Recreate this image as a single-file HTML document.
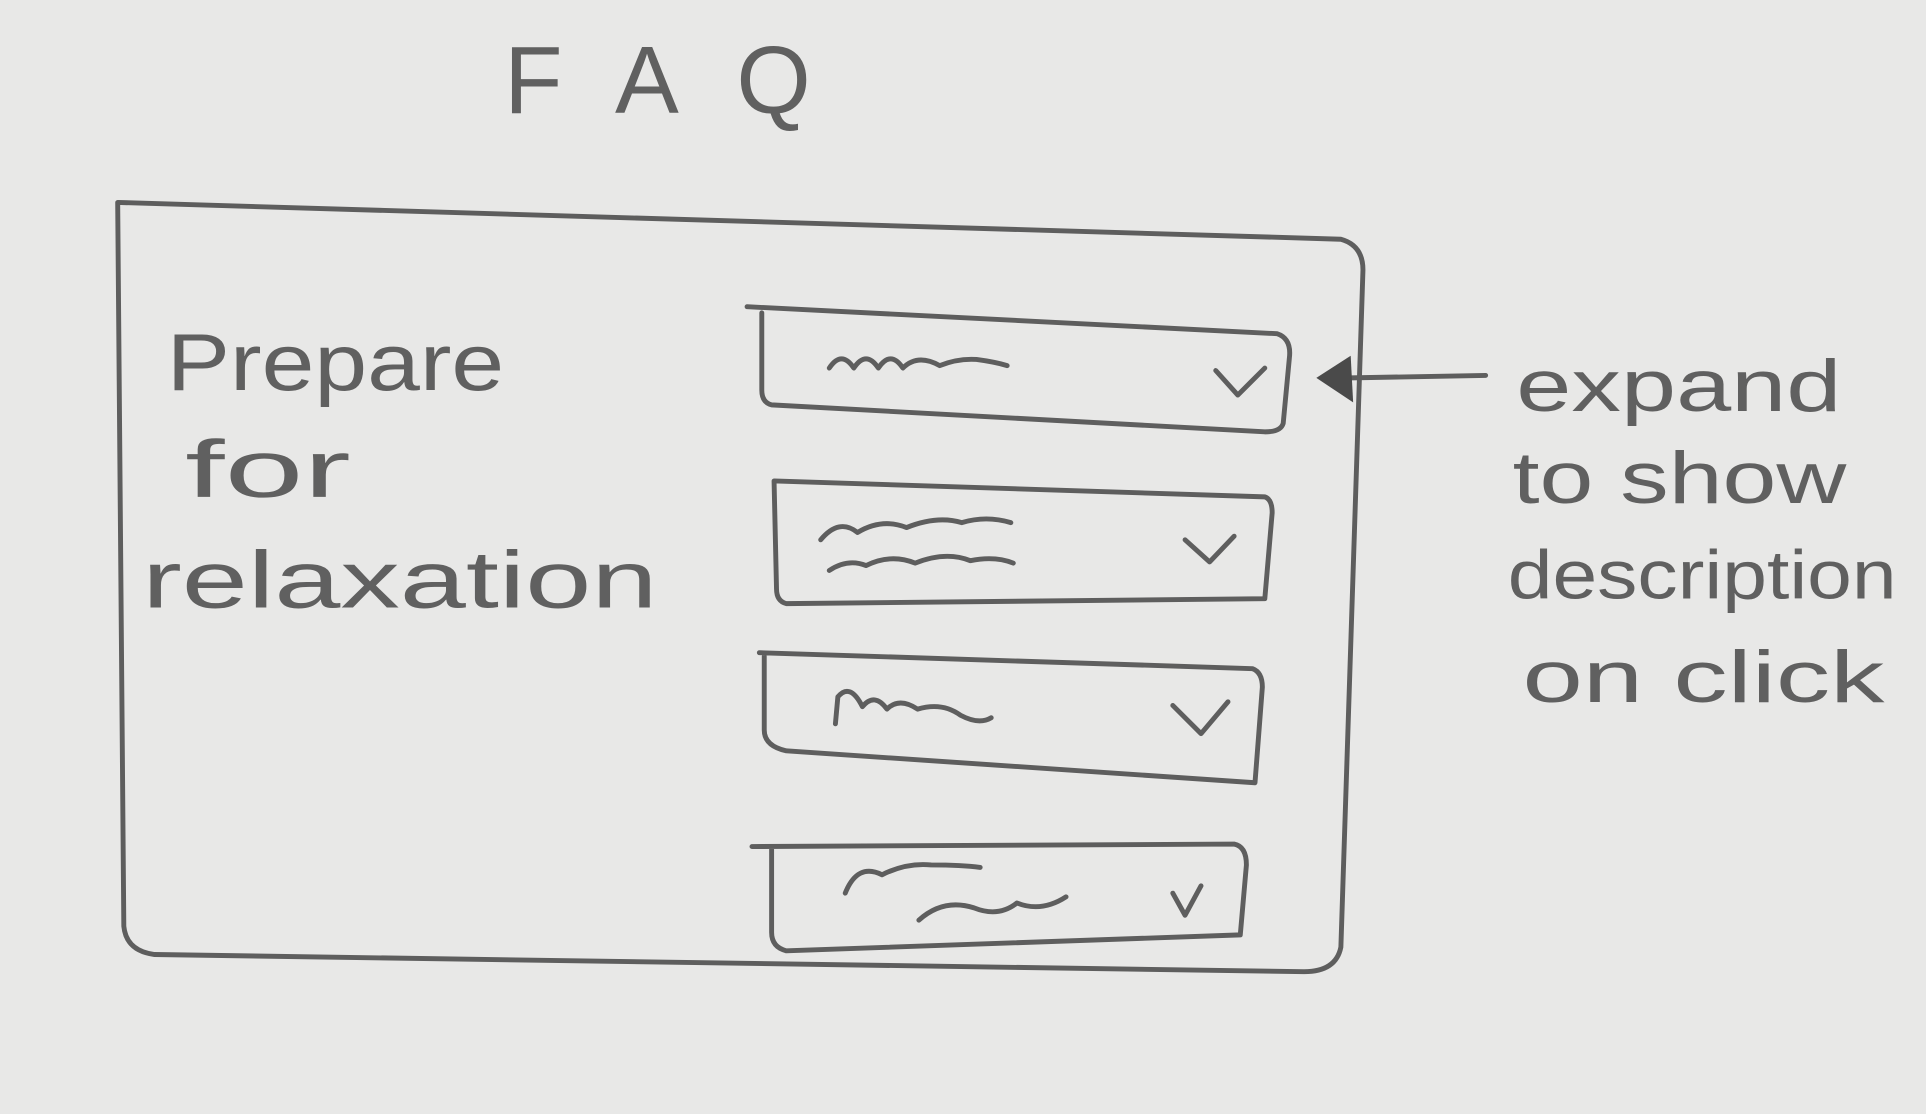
<!DOCTYPE html>
<html><head><meta charset="utf-8"><style>
html,body{margin:0;padding:0;background:#e8e8e7;}
svg{display:block}
text{font-family:"Liberation Sans",sans-serif;fill:#606060;}
</style></head><body>
<svg width="1926" height="1114" viewBox="0 0 1568 908" xmlns="http://www.w3.org/2000/svg">
<rect width="1568" height="908" fill="#e8e8e7"/>
<g fill="none" stroke="#5e5e5e" stroke-width="4" stroke-linecap="round" stroke-linejoin="round">
<path d="M95,165 L1092,195 Q1110,200 1110,220 L1092,772 Q1088,792 1062,792 L125,778 Q102,775 100,755 Z"/>
<path d="M608,250 L1040,272 Q1052,276 1050,292 L1045,345 Q1043,352 1030,352 L628,330 Q620,328 620,318 L620,255"/>
<path d="M630,392 L1030,405 Q1036,407 1036,418 L1030,488 L640,492 Q632,490 632,480 Z"/>
<path d="M618,532 L1020,545 Q1028,548 1028,560 L1022,638 L640,612 Q622,608 622,595 L622,535"/>
<path d="M612,690 L1005,688 Q1015,690 1015,705 L1010,762 L640,775 Q628,772 628,760 L628,690"/>
<path d="M990,302 L1008,322 L1030,300"/>
<path d="M965,440 L985,458 L1005,437"/>
<path d="M955,575 L978,598 L1000,572"/>
<path d="M955,728 L965,746 L978,722"/>
<path d="M675,300 q10,-15 20,0 q10,-15 20,0 q10,-15 20,0 q12,-12 30,-2 q15,-6 30,-5 q15,2 25,5"/>
<path d="M668,440 q15,-18 30,-6 q20,-12 40,-4 q25,-10 45,-4 q20,-6 40,0"/>
<path d="M675,465 q15,-10 30,-4 q20,-10 40,-2 q25,-10 45,-2 q20,-4 35,2"/>
<path d="M680,590 L682,568 q10,-12 20,8 q10,-12 20,2 q10,-10 25,0 q20,-6 35,5 q15,8 25,2"/>
<path d="M688,728 q10,-25 30,-15 q20,-10 40,-8 q25,0 40,2"/>
<path d="M748,750 q20,-18 45,-10 q20,8 35,-4 q20,8 40,-5"/>
<path d="M1100,308 L1210,306"/>
</g>
<path d="M1072,308 L1100,290 L1102,328 Z" fill="#4a4a4a"/>
<text x="410" y="92" font-size="78" textLength="250" lengthAdjust="spacing">FAQ</text>
<text x="135" y="318" font-size="66" textLength="275" lengthAdjust="spacingAndGlyphs">Prepare</text>
<text x="150" y="405" font-size="66" textLength="135" lengthAdjust="spacingAndGlyphs">for</text>
<text x="115" y="495" font-size="66" textLength="420" lengthAdjust="spacingAndGlyphs">relaxation</text>
<text x="1235" y="335" font-size="60" textLength="265" lengthAdjust="spacingAndGlyphs">expand</text>
<text x="1232" y="410" font-size="60" textLength="272" lengthAdjust="spacingAndGlyphs">to show</text>
<text x="1228" y="488" font-size="56" textLength="317" lengthAdjust="spacingAndGlyphs">description</text>
<text x="1240" y="572" font-size="60" textLength="295" lengthAdjust="spacingAndGlyphs">on click</text>
</svg>
</body></html>
